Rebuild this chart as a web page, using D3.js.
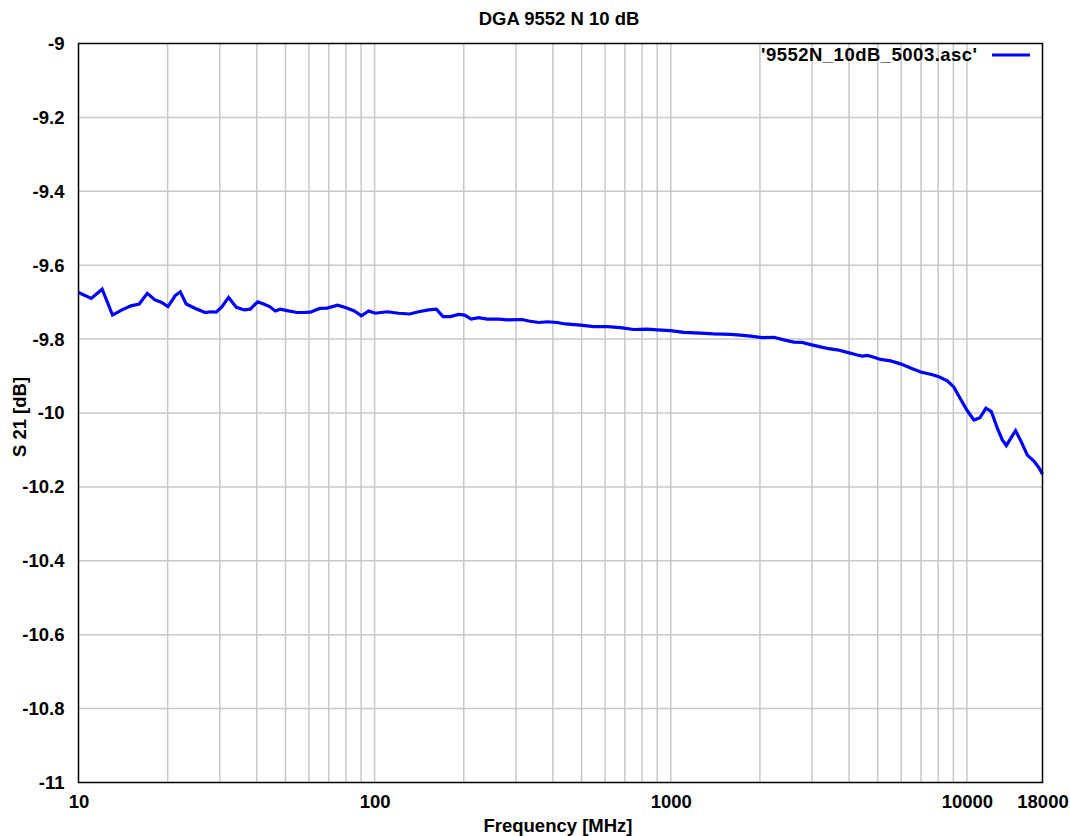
<!DOCTYPE html>
<html>
<head>
<meta charset="utf-8">
<script src="https://cdn.jsdelivr.net/npm/d3@7"></script>
<style>
  html, body { margin: 0; padding: 0; background: #fff; }
  svg { display: block; }
  text { font-family: "Liberation Sans", Arial, sans-serif; font-weight: bold; fill: #000; }
</style>
</head>
<body>
<svg id="chart" width="1070" height="836"></svg>
<script>
const title = "DGA 9552 N 10 dB";
const xLabel = "Frequency [MHz]";
const yLabel = "S 21 [dB]";
const seriesName = "'9552N_10dB_5003.asc'";
const xTickValues = [10, 100, 1000, 10000, 18000];
const yTickValues = [-9, -9.2, -9.4, -9.6, -9.8, -10, -10.2, -10.4, -10.6, -10.8, -11];

const freq = [10, 11.04, 12.02, 13.03, 14.02, 15.03, 16.04, 17.07, 18.12, 19.03,
  20.05, 21.22, 22.06, 23.11, 24.8, 26.79, 28.02, 29.19, 30.51, 32.12,
  34.11, 36.29, 38.03, 40.25, 42.17, 44.19, 46.19, 48.02, 50.59, 54.67,
  57.55, 60.66, 65.2, 69.06, 75.0, 80.07, 85.39, 90.19, 95.44, 100.55,
  110.1, 120.5, 131.3, 140.8, 152.2, 161.6, 170.2, 180.2, 192.2, 201.4,
  211.7, 224.6, 239.8, 262.3, 280.2, 314.8, 331.4, 358.3, 382.4, 413.3,
  441.0, 495.3, 549.5, 609.7, 676.2, 749.9, 832.3, 899.7, 997.7, 1106.5,
  1260, 1397.6, 1591, 1719.9, 1859, 2036, 2228, 2409, 2603, 2779,
  2965, 3204, 3419, 3650, 3944, 4263, 4432, 4607, 4851, 5109,
  5523, 5970, 6453, 6976, 7541, 8043, 8587, 9040, 9522, 10032,
  10560, 11065, 11593, 12090, 12668, 13170, 13586, 14125, 14604, 15267,
  15996, 16840, 17508, 18000];

const s21 = [-9.674, -9.690, -9.665, -9.735, -9.721, -9.710, -9.705, -9.676, -9.694, -9.700,
  -9.712, -9.682, -9.672, -9.705, -9.717, -9.728, -9.726, -9.727, -9.712, -9.687,
  -9.714, -9.721, -9.719, -9.699, -9.705, -9.712, -9.724, -9.719, -9.723, -9.728,
  -9.728, -9.727, -9.717, -9.716, -9.708, -9.715, -9.724, -9.737, -9.724, -9.730,
  -9.726, -9.730, -9.732, -9.726, -9.721, -9.719, -9.739, -9.739, -9.733, -9.735,
  -9.746, -9.742, -9.746, -9.746, -9.748, -9.747, -9.751, -9.755, -9.753, -9.755,
  -9.759, -9.762, -9.766, -9.766, -9.769, -9.774, -9.773, -9.775, -9.777, -9.782,
  -9.784, -9.786, -9.787, -9.789, -9.792, -9.796, -9.795, -9.802, -9.808, -9.809,
  -9.815, -9.821, -9.826, -9.829, -9.836, -9.843, -9.846, -9.844, -9.849, -9.855,
  -9.859, -9.867, -9.878, -9.889, -9.895, -9.902, -9.913, -9.930, -9.963, -9.994,
  -10.019, -10.013, -9.987, -9.996, -10.041, -10.073, -10.088, -10.066, -10.048, -10.078,
  -10.114, -10.130, -10.148, -10.166];

const FS = 18.5;
const svg = d3.select("#chart");
const m = { left: 78.5, right: 1042.5, top: 43.5, bottom: 782.5 };

const x = d3.scaleLog().domain([10, 18000]).range([m.left, m.right]);
const y = d3.scaleLinear().domain([-11, -9]).range([m.bottom, m.top]);

// grid lines (major + minor for log axis)
const xGrid = [];
for (let d = 10; d < 18000; d *= 10) {
  for (let k = 1; k <= 9; k++) {
    const v = d * k;
    if (v > 10 && v < 18000) xGrid.push(v);
  }
}
const grid = svg.append("g").attr("stroke", "#c8c8c8").attr("stroke-width", 1.5);
grid.selectAll("line.xg").data(xGrid).join("line")
  .attr("x1", d => x(d)).attr("x2", d => x(d))
  .attr("y1", m.top).attr("y2", m.bottom);
grid.selectAll("line.yg").data(yTickValues.filter(v => v > -11 && v < -9)).join("line")
  .attr("x1", m.left).attr("x2", m.right)
  .attr("y1", d => y(d)).attr("y2", d => y(d));

// axes labels via d3 axes (plain hyphen minus like the original)
const fmtY = d => String(+d.toFixed(1));
const yAxis = d3.axisLeft(y).tickValues(yTickValues).tickSize(0).tickPadding(14).tickFormat(fmtY);
const gy = svg.append("g").attr("transform", `translate(${m.left},0)`).call(yAxis);
gy.select(".domain").remove();
gy.selectAll("text").attr("font-size", FS).attr("font-family", "Liberation Sans, Arial, sans-serif").attr("font-weight", "bold").attr("fill", "#000");

const xAxis = d3.axisBottom(x).tickValues(xTickValues).tickSize(0).tickPadding(12).tickFormat(d => String(d));
const gx = svg.append("g").attr("transform", `translate(0,${m.bottom})`).call(xAxis);
gx.select(".domain").remove();
gx.selectAll("text").attr("font-size", FS).attr("font-family", "Liberation Sans, Arial, sans-serif").attr("font-weight", "bold").attr("fill", "#000");

// data line
const line = d3.line().x((d, i) => x(freq[i])).y(d => y(d));
svg.append("path").datum(s21)
  .attr("fill", "none").attr("stroke", "#0000ff").attr("stroke-width", 3.2)
  .attr("stroke-linejoin", "miter")
  .attr("d", line);

// border
svg.append("rect")
  .attr("x", m.left).attr("y", m.top)
  .attr("width", m.right - m.left).attr("height", m.bottom - m.top)
  .attr("fill", "none").attr("stroke", "#000").attr("stroke-width", 1.5);

// title and axis titles
svg.append("text").attr("x", 559).attr("y", 25).attr("text-anchor", "middle")
  .attr("font-size", FS).text(title);
svg.append("text").attr("x", 558).attr("y", 832).attr("text-anchor", "middle")
  .attr("font-size", FS).text(xLabel);
svg.append("text").attr("transform", "translate(26,417) rotate(-90)").attr("text-anchor", "middle")
  .attr("font-size", FS).text(yLabel);

// legend
svg.append("text").attr("x", 977).attr("y", 61).attr("text-anchor", "end")
  .attr("font-size", FS).attr("textLength", 216).attr("lengthAdjust", "spacing").text(seriesName);
svg.append("line").attr("x1", 992).attr("x2", 1030).attr("y1", 55).attr("y2", 55)
  .attr("stroke", "#0000ff").attr("stroke-width", 3.2);
</script>
</body>
</html>
